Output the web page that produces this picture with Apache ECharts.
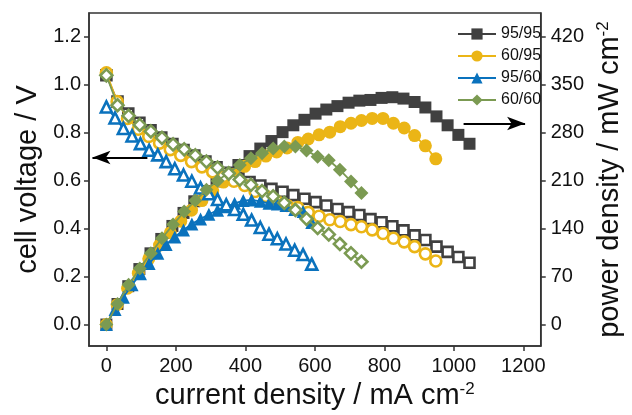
<!DOCTYPE html>
<html>
<head>
<meta charset="utf-8">
<script src="https://cdn.jsdelivr.net/npm/echarts@6/dist/echarts.min.js"></script>
<style>
html,body{margin:0;padding:0;background:#fff;}
#chart{width:632px;height:415px;}
</style>
</head>
<body>
<div id="chart"></div>
<script>
// ---- data ----
const seriesNames = ['95/95', '60/95', '95/60', '60/60'];
const xTicks = [0, 200, 400, 600, 800, 1000, 1200];
const vTicks = [0, 0.2, 0.4, 0.6, 0.8, 1.0, 1.2];
const pTicks = [0, 70, 140, 210, 280, 350, 420];

// 95/95
const cur9595 = [0, 32, 63, 95, 127, 158, 190, 222, 253, 285, 317, 348, 380, 412, 443, 475, 507, 538, 570, 602, 633, 665, 697, 728, 760, 792, 823, 855, 887, 918, 950, 982, 1013, 1045];
const volt9595 = [1.04, 0.93, 0.88, 0.842, 0.810, 0.780, 0.753, 0.728, 0.705, 0.680, 0.656, 0.633, 0.612, 0.595, 0.580, 0.566, 0.554, 0.540, 0.525, 0.511, 0.497, 0.482, 0.469, 0.457, 0.440, 0.427, 0.410, 0.393, 0.372, 0.353, 0.325, 0.303, 0.282, 0.258];
const pow9595 = [0, 30, 56, 81, 104, 125, 144, 163, 180, 195, 209, 221, 233, 246, 257, 268, 281, 291, 299, 308, 314, 319, 324, 327, 328, 331, 332, 330, 325, 317, 304, 291, 277, 264];

// 60/95
const cur6095 = [0, 31, 61, 92, 122, 153, 184, 214, 245, 275, 306, 337, 367, 398, 428, 459, 490, 520, 551, 581, 612, 643, 673, 704, 734, 765, 796, 826, 857, 887, 918, 948];
const volt6095 = [1.05, 0.93, 0.86, 0.815, 0.785, 0.757, 0.730, 0.706, 0.680, 0.658, 0.637, 0.618, 0.598, 0.580, 0.555, 0.535, 0.515, 0.497, 0.488, 0.468, 0.452, 0.437, 0.430, 0.417, 0.408, 0.395, 0.380, 0.360, 0.345, 0.325, 0.295, 0.265];
const pow6095 = [0, 29, 53, 75, 96, 116, 134, 151, 167, 181, 195, 208, 219, 231, 238, 246, 252, 258, 266, 271, 277, 281, 289, 294, 298, 301, 301, 294, 287, 276, 261, 242];

// 95/60
const cur9560 = [0, 25, 49, 74, 98, 123, 148, 172, 197, 222, 246, 271, 295, 320, 345, 369, 394, 418, 443, 468, 492, 517, 542, 566, 591];
const volt9560 = [0.908, 0.862, 0.818, 0.787, 0.755, 0.727, 0.708, 0.680, 0.650, 0.624, 0.598, 0.570, 0.546, 0.522, 0.500, 0.480, 0.460, 0.436, 0.405, 0.377, 0.358, 0.336, 0.310, 0.292, 0.252];
const pow9560 = [0, 22, 40, 58, 74, 89, 104, 117, 128, 138, 147, 154, 161, 167, 172, 177, 181, 182, 180, 177, 176, 174, 168, 165, 149];

// 60/60
const cur6060 = [0, 32, 64, 96, 128, 160, 192, 224, 256, 288, 320, 352, 384, 416, 448, 480, 512, 544, 576, 608, 640, 672, 704, 734];
const volt6060 = [1.04, 0.915, 0.871, 0.833, 0.806, 0.779, 0.752, 0.731, 0.706, 0.680, 0.655, 0.630, 0.605, 0.583, 0.557, 0.535, 0.508, 0.478, 0.441, 0.403, 0.376, 0.336, 0.297, 0.262];
const pow6060 = [0, 30, 58, 82, 104, 126, 146, 165, 181, 197, 210, 222, 233, 243, 250, 257, 260, 260, 254, 245, 240, 226, 209, 192];

// arrows (annotation endpoints in data units)
const leftArrow = [[118, 0.697], [-40, 0.697]];
const rightArrow = [[1028, 293.6], [1205, 293.6]];

// ---- styling ----
const colors = ['#404040', '#ebb516', '#0a72bd', '#7b9a52'];
const symbols = ['rect', 'circle', 'triangle', 'diamond'];
const symSizes = [12, 13, 13, 14];
const curs = [cur9595, cur6095, cur9560, cur6060];
const volts = [volt9595, volt6095, volt9560, volt6060];
const pows = [pow9595, pow6095, pow9560, pow6060];

function zip(a, b) { return a.map((v, i) => [v, b[i]]); }

const series = [];
// power (filled, right axis)
for (let k = 0; k < 4; k++) {
  series.push({
    name: seriesNames[k], type: 'line', yAxisIndex: 1,
    data: zip(curs[k], pows[k]),
    symbol: symbols[k], symbolSize: symSizes[k], showAllSymbol: true,
    lineStyle: { color: colors[k], width: 1.8 },
    itemStyle: { color: colors[k], borderColor: colors[k], borderWidth: 0 },
    z: 2 + k, animation: false
  });
}
// voltage (hollow, left axis)
for (let k = 0; k < 4; k++) {
  series.push({
    name: seriesNames[k] + ' V', type: 'line', yAxisIndex: 0,
    data: zip(curs[k], volts[k]),
    symbol: symbols[k], symbolSize: symSizes[k] - 2, showAllSymbol: true,
    lineStyle: { color: colors[k], width: 1.8 },
    itemStyle: { color: '#ffffff', borderColor: colors[k], borderWidth: 2.6 },
    z: 2 + k, animation: false
  });
}
// arrows
series.push({
  type: 'line', yAxisIndex: 0, data: [], silent: true, animation: false,
  markLine: {
    silent: true, animation: false, symbol: ['none', 'arrow'], symbolSize: [10, 18],
    label: { show: false },
    lineStyle: { color: '#000', width: 2, type: 'solid' },
    data: [[{ coord: leftArrow[0] }, { coord: leftArrow[1] }]]
  }
});
series.push({
  type: 'line', yAxisIndex: 1, data: [], silent: true, animation: false,
  markLine: {
    silent: true, animation: false, symbol: ['none', 'arrow'], symbolSize: [10, 18],
    label: { show: false },
    lineStyle: { color: '#000', width: 2, type: 'solid' },
    data: [[{ coord: rightArrow[0] }, { coord: rightArrow[1] }]]
  }
});

const axisColor = '#333';
const font = 'Liberation Sans, Arial, sans-serif';
const supStyle = { fontSize: 17, verticalAlign: 'top', padding: [0, 0, 12, 0], color: '#111' };

const chart = echarts.init(document.getElementById('chart'), null, { renderer: 'canvas' });
chart.setOption({
  backgroundColor: '#fff',
  animation: false,
  textStyle: { fontFamily: font },
  grid: { left: 89, right: 86, top: 13, bottom: 65, show: true, borderColor: axisColor, borderWidth: 1.5, backgroundColor: 'transparent' },
  legend: {
    data: seriesNames, orient: 'vertical', left: 452, top: 21,
    itemWidth: 38, itemHeight: 14, itemGap: 6,
    textStyle: { fontSize: 16, color: '#111', fontFamily: font },
    inactiveColor: '#ccc'
  },
  xAxis: {
    type: 'value', min: -50, max: 1250,
    name: 'current density / mA cm{sup|-2}', nameLocation: 'middle', nameGap: 34,
    nameTextStyle: { fontSize: 29, color: '#111', fontFamily: font, rich: { sup: supStyle } },
    axisLine: { show: true, onZero: false, lineStyle: { color: axisColor, width: 1.5 } },
    axisTick: { show: true, inside: false, length: 5, customValues: xTicks, lineStyle: { color: axisColor, width: 1.5 } },
    axisLabel: { customValues: xTicks, fontSize: 20, color: '#111', margin: 10, fontFamily: font, formatter: v => String(v) },
    splitLine: { show: false }
  },
  yAxis: [{
    type: 'value', min: -0.09, max: 1.3, position: 'left',
    name: 'cell voltage / V', nameLocation: 'middle', nameGap: 46, nameRotate: 90,
    nameTextStyle: { fontSize: 29, color: '#111', fontFamily: font },
    axisLine: { show: true, onZero: false, lineStyle: { color: axisColor, width: 1.5 } },
    axisTick: { show: true, inside: false, length: 5, customValues: vTicks, lineStyle: { color: axisColor, width: 1.5 } },
    axisLabel: { customValues: vTicks, fontSize: 20, color: '#111', margin: 8, fontFamily: font, formatter: v => v.toFixed(1) },
    splitLine: { show: false }
  }, {
    type: 'value', min: -31.5, max: 455, position: 'right',
    name: 'power density / mW cm{sup|-2}', nameLocation: 'middle', nameGap: 49, nameRotate: 90,
    nameTextStyle: { fontSize: 29, color: '#111', fontFamily: font, rich: { sup: supStyle } },
    axisLine: { show: true, onZero: false, lineStyle: { color: axisColor, width: 1.5 } },
    axisTick: { show: true, inside: false, length: 5, customValues: pTicks, lineStyle: { color: axisColor, width: 1.5 } },
    axisLabel: { customValues: pTicks, fontSize: 20, color: '#111', margin: 10, fontFamily: font, formatter: v => String(v) },
    splitLine: { show: false }
  }],
  series: series
});
</script>
</body>
</html>
